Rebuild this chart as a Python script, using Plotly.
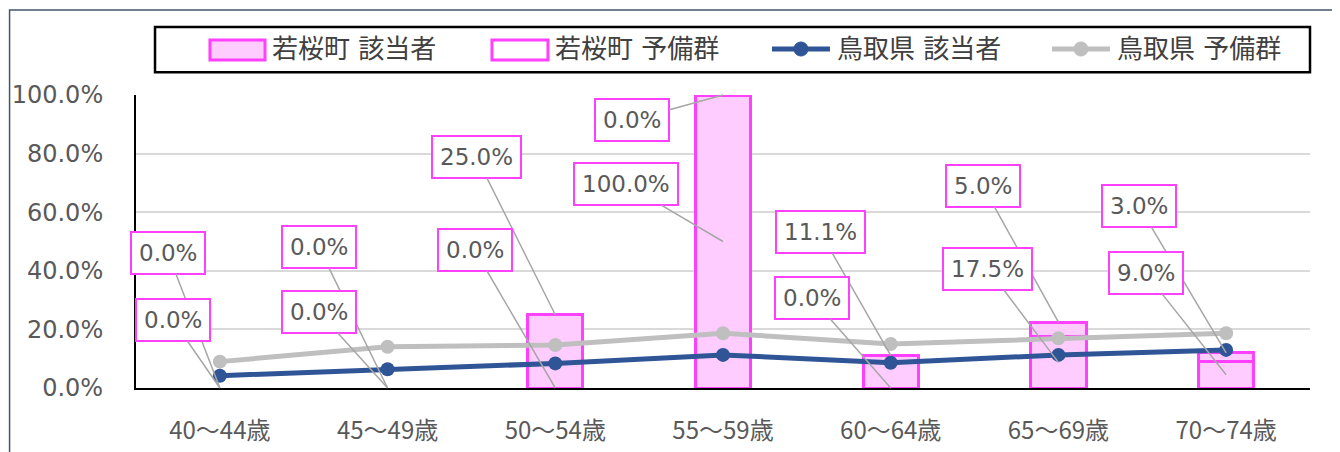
import plotly.graph_objects as go

# --- data ---
age_groups = ['40～44歳', '45～49歳', '50～54歳', '55～59歳', '60～64歳', '65～69歳', '70～74歳']
series_names = ['若桜町 該当者', '若桜町 予備群', '鳥取県 該当者', '鳥取県 予備群']
wakasa_gaitou = [0.0, 0.0, 0.0, 100.0, 0.0, 17.5, 9.0]      # 若桜町 該当者
wakasa_yobi = [0.0, 0.0, 25.0, 0.0, 11.1, 5.0, 3.0]         # 若桜町 予備群
tottori_gaitou = [4.2, 6.4, 8.4, 11.3, 8.6, 11.3, 13.0]     # 鳥取県 該当者
tottori_yobi = [9.0, 14.1, 14.7, 18.7, 15.0, 17.0, 18.7]    # 鳥取県 予備群
y_ticks = [0, 20, 40, 60, 80, 100]

# label box placement (x offset in category units, y in %)
yobi_label_dx = [-0.31, -0.41, -0.47, -0.54, -0.42, -0.45, -0.52]
yobi_label_y = [46.1, 48.1, 78.8, 91.5, 53.2, 68.9, 62.1]
gaitou_label_dx = [-0.28, -0.41, -0.48, -0.58, -0.47, -0.42, -0.48]
gaitou_label_y = [23.2, 25.9, 47.1, 69.6, 30.7, 40.6, 39.2]

PINK_FILL = '#FFCCFF'
PINK_LINE = '#FF40FF'
NAVY = '#2F5597'
GRAY = '#BFBFBF'
TEXT = '#595959'
FONT = 'DejaVu Sans, Noto Sans CJK JP'

idx = list(range(len(age_groups)))


def hide_zero(vals):
    # zero-height segments are not drawn in the original
    return [v if v else None for v in vals]


fig = go.Figure()

fig.add_trace(go.Bar(
    x=idx, y=hide_zero(wakasa_gaitou), name=series_names[0], width=0.33,
    marker=dict(color=PINK_FILL, line=dict(color=PINK_LINE, width=3)),
))
fig.add_trace(go.Bar(
    x=idx, y=hide_zero(wakasa_yobi), name=series_names[1], width=0.33,
    marker=dict(color=PINK_FILL, line=dict(color=PINK_LINE, width=3)),
))
fig.add_trace(go.Scatter(
    x=idx, y=tottori_yobi, name=series_names[3], mode='lines+markers',
    line=dict(color=GRAY, width=5), marker=dict(size=14, color=GRAY),
))
fig.add_trace(go.Scatter(
    x=idx, y=tottori_gaitou, name=series_names[2], mode='lines+markers',
    line=dict(color=NAVY, width=5), marker=dict(size=14, color=NAVY),
))

# data labels with leader lines
annotations = []
for i in idx:
    top = wakasa_gaitou[i] + wakasa_yobi[i]
    for val, target, dx, ly in [
        (wakasa_yobi[i], top, yobi_label_dx[i], yobi_label_y[i]),
        (wakasa_gaitou[i], wakasa_gaitou[i] / 2, gaitou_label_dx[i], gaitou_label_y[i]),
    ]:
        annotations.append(dict(
            x=i, y=target, xref='x', yref='y',
            ax=i + dx, ay=ly, axref='x', ayref='y',
            text=f'{val:.1f}%', showarrow=True, arrowhead=0,
            arrowwidth=1.5, arrowcolor='#A6A6A6',
            bgcolor='white', bordercolor=PINK_LINE, borderwidth=2, borderpad=7,
            font=dict(size=23, color=TEXT, family=FONT),
        ))

# hand-built legend (wide swatches like the original)
leg_y = 1.157
leg_text_x = [0.1141, 0.3552, 0.5954, 0.8339]
for name, lx in zip(series_names, leg_text_x):
    annotations.append(dict(
        x=lx, y=leg_y, xref='paper', yref='paper', xanchor='left', yanchor='middle',
        text=name, showarrow=False, font=dict(size=26, color='#404040', family=FONT),
    ))

shapes = [
    # outer frame
    dict(type='rect', xref='paper', yref='paper', x0=-0.1077, x1=1.0213, y0=-0.23, y1=1.29,
         line=dict(color='#44546A', width=1.5), layer='below'),
    # legend frame
    dict(type='rect', xref='paper', yref='paper', x0=0.0162, x1=1.0, y0=1.078, y1=1.232,
         line=dict(color='black', width=2.5)),
    # legend swatches
    dict(type='rect', xref='paper', yref='paper', x0=0.0630, x1=0.1099, y0=1.1195, y1=1.1877,
         fillcolor=PINK_FILL, line=dict(color=PINK_LINE, width=3)),
    dict(type='rect', xref='paper', yref='paper', x0=0.3032, x1=0.3509, y0=1.1195, y1=1.1877,
         fillcolor='white', line=dict(color=PINK_LINE, width=3)),
]
for x0, x1, xc, col in [(0.5417, 0.5911, 0.5664, NAVY), (0.7802, 0.8296, 0.8049, GRAY)]:
    shapes.append(dict(type='line', xref='paper', yref='paper', x0=x0, x1=x1, y0=leg_y, y1=leg_y,
                       line=dict(color=col, width=5)))
    shapes.append(dict(type='circle', xref='paper', yref='paper',
                       x0=xc - 0.006, x1=xc + 0.006, y0=leg_y - 0.024, y1=leg_y + 0.024,
                       fillcolor=col, line=dict(color=col, width=1)))

# page body has an 8px margin, so the figure is 8px smaller than the window
fig.update_layout(
    width=1332, height=444,
    margin=dict(l=128, r=30, t=87, b=64, autoexpand=False),
    paper_bgcolor='white', plot_bgcolor='white',
    barmode='stack', bargap=0.67,
    font=dict(family=FONT, color=TEXT, size=22),
    annotations=annotations,
    shapes=shapes,
    showlegend=False,
)

fig.update_xaxes(
    tickmode='array', tickvals=idx, ticktext=age_groups, range=[-0.5, 6.5],
    showline=True, linecolor='black', linewidth=2, showgrid=False,
    ticklabelstandoff=20, tickfont=dict(size=24, color=TEXT, family='Noto Sans CJK JP'),
)
fig.update_yaxes(
    range=[0, 100], tickmode='array', tickvals=y_ticks,
    ticktext=[f'{t:.1f}%' for t in y_ticks],
    showline=True, linecolor='black', linewidth=2,
    gridcolor='#D9D9D9', gridwidth=1.5, zeroline=False,
    ticklabelstandoff=26, tickfont=dict(size=24, color=TEXT),
)

fig.write_html('out.html')
